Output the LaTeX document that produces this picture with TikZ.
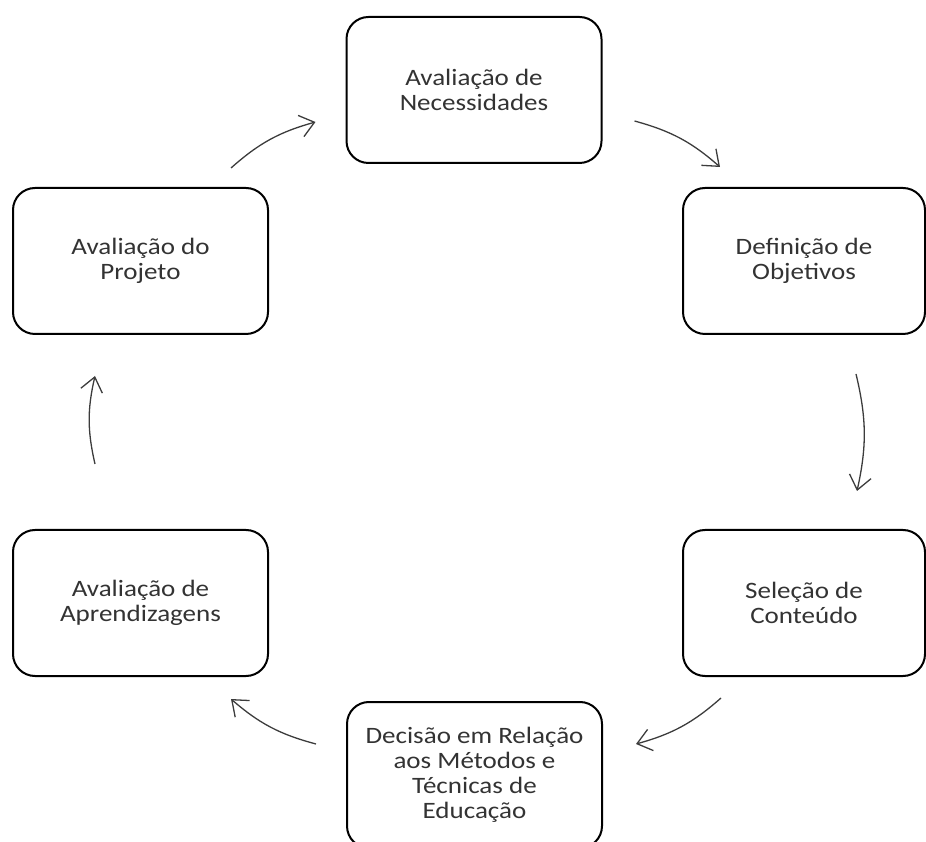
\documentclass[tikz,border=0pt]{standalone}
\usepackage{fontspec}
\setmainfont[FakeStretch=1.15]{Carlito}
\usetikzlibrary{arrows.meta}
\definecolor{txtgray}{HTML}{333333}
\definecolor{arrgray}{HTML}{3C3C3C}
\begin{document}
\begin{tikzpicture}[x=1pt, y=1pt,
box/.style={draw=black, line width=2pt, rounded corners=22pt, minimum width=255pt,
  minimum height=146pt, align=center, text=txtgray,
  font=\fontsize{23.5pt}{25pt}\selectfont},
cyc/.style={draw=arrgray, line width=1.3pt, bend left=13,
  -{Straight Barb[length=14pt,width=22pt,line width=1.3pt]}}]
\clip (0,0) rectangle (926,841);
\node[box] (nec) at (474,751) {Avaliação de\\Necessidades};
\node[box, minimum width=242pt] (obj) at (804,580) {Definição de\\Objetivos};
\node[box, minimum width=242pt] (cont) at (804,238) {Seleção de\\Conteúdo};
\node[box] (dec) at (474.5,66) {Decisão em Relação\\aos Métodos e\\Técnicas de\\Educação};
\node[box] (apr) at (140.5,238) {Avaliação de\\Aprendizagens};
\node[box] (proj) at (140.5,580) {Avaliação do\\Projeto};
\draw[cyc] ([shift={(-38,19)}]proj.north east) to ([shift={(-30,-32)}]nec.west);
\draw[cyc] ([shift={(32,-31)}]nec.east) to ([shift={(38,20)}]obj.north west);
\draw[cyc] ([shift={(52,-39)}]obj.south) to ([shift={(53,38)}]cont.north);
\draw[cyc] ([shift={(39,-21)}]cont.south west) to ([shift={(33,31)}]dec.east);
\draw[cyc] ([shift={(-30,31)}]dec.west) to ([shift={(-38,-22)}]apr.south east);
\draw[cyc] ([shift={(-45.5,65)}]apr.north) to ([shift={(-45.5,-41)}]proj.south);
\end{tikzpicture}
\end{document}
